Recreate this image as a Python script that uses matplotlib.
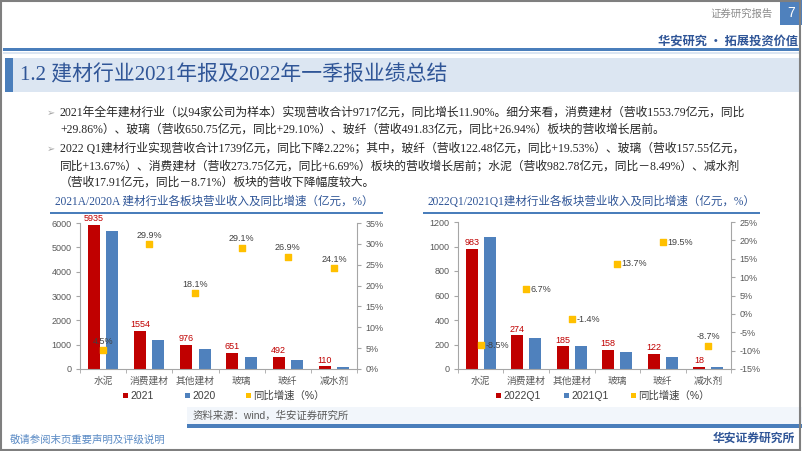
import numpy as np
import matplotlib.pyplot as plt
from matplotlib.patches import Rectangle

# data
cats = ['水泥', '消费建材', '其他建材', '玻璃', '玻纤', '减水剂']

rev_2021 = [5935, 1554, 976, 651, 492, 110]
rev_2020 = [5680, 1196, 826, 504, 388, 89]
yoy_2021 = [4.5, 29.9, 18.1, 29.1, 26.9, 24.1]

rev_22q1 = [983, 274, 185, 158, 122, 18]
rev_21q1 = [1074, 257, 188, 139, 102, 20]
yoy_22q1 = [-8.5, 6.7, -1.4, 13.7, 19.5, -8.7]

bullets = [
    '2021年全年建材行业（以94家公司为样本）实现营收合计9717亿元，同比增长11.90%。细分来看，消费建材（营收1553.79亿元，同比',
    '+29.86%）、玻璃（营收650.75亿元，同比+29.10%）、玻纤（营收491.83亿元，同比+26.94%）板块的营收增长居前。',
    '2022 Q1建材行业实现营收合计1739亿元，同比下降2.22%；其中，玻纤（营收122.48亿元，同比+19.53%）、玻璃（营收157.55亿元，',
    '同比+13.67%）、消费建材（营收273.75亿元，同比+6.69%）板块的营收增长居前；水泥（营收982.78亿元，同比－8.49%）、减水剂',
    '（营收17.91亿元，同比－8.71%）板块的营收下降幅度较大。',
]

RED = '#C00000'
BLUE = '#4F81BD'
YEL = '#FFC000'
DARKBLUE = '#2F5597'
GRAY = '#595959'

SERIF = ['Liberation Serif', 'Noto Sans CJK SC']
SANS = ['Liberation Sans', 'Noto Sans CJK SC']
plt.rcParams['font.family'] = ['Noto Sans CJK SC', 'DejaVu Sans']

W, H = 802, 451
fig = plt.figure(figsize=(W / 100, H / 100), dpi=100)


def fx(x):
    return x / W


def fy(y):
    return 1 - y / H


def box(x0, y0, x1, y1, color, **kw):
    fig.patches.append(Rectangle((fx(x0), fy(y1)), fx(x1 - x0), (y1 - y0) / H,
                                 transform=fig.transFigure, color=color, lw=0, **kw))


# header
box(780, 0, 802, 25, '#4F81BD')
fig.text(fx(791), fy(13), '7', color='white', fontsize=10, ha='center', va='center', family=SANS)
fig.text(fx(773), fy(14), '证券研究报告', color='#8C8C8C', fontsize=7.5, ha='right', va='center')
fig.text(fx(798), fy(41), '华安研究 · 拓展投资价值', color=DARKBLUE, fontsize=8.8,
         fontweight='bold', ha='right', va='center')
box(3, 48, 799, 51, '#4A7EBB')
box(3, 52, 799, 54, '#DCE6F2')

# section title band
box(5, 58, 799, 92, '#DCE6F2')
box(5, 58, 13, 92, '#4A7EBB')
fig.text(fx(20), fy(75), '1.2 建材行业2021年报及2022年一季报业绩总结', color=DARKBLUE,
         fontsize=15, ha='left', va='center', family=SERIF)

# bullet text
line_y = [113, 130, 149, 166, 183]
for i, (t, y) in enumerate(zip(bullets, line_y)):
    if i in (0, 2):
        fig.text(fx(47), fy(y), '➢', color='#A6A6A6', fontsize=7, ha='left', va='center',
                 family=['DejaVu Sans'])
    fig.text(fx(60), fy(y), t, color='#262626', fontsize=8.5, ha='left', va='center', family=SERIF)


def chart(ax_px, title, title_px, v1, v2, yoy, ymax, ystep, rmin, rmax, leg_names, leg_px, right_labels):
    x0, y0, x1, y1 = ax_px
    ax = fig.add_axes([fx(x0), fy(y1), fx(x1 - x0), (y1 - y0) / H])
    x = np.arange(len(cats))
    ax.bar(x - 0.2, v1, width=0.26, color=RED)
    ax.bar(x + 0.2, v2, width=0.26, color=BLUE)
    for xi, v in zip(x, v1):
        ax.text(xi - 0.2, v + ymax * 0.012, str(v), color=RED, fontsize=6.5,
                ha='center', va='bottom', family=SANS)
    ax.set_xlim(-0.5, len(cats) - 0.5)
    ax.set_ylim(0, ymax)
    ax.set_yticks(np.arange(0, ymax + 1, ystep))
    ax.set_xticks(x)
    ax.set_xticklabels(cats, fontsize=7, color=GRAY)
    ax.set_xticks(np.arange(-0.5, len(cats), 1), minor=True)
    ax.tick_params(axis='x', which='major', length=0, pad=5)
    ax.tick_params(axis='x', which='minor', length=3, color='#A6A6A6')
    ax.tick_params(axis='y', length=3, color='#A6A6A6', labelsize=6.5, labelcolor=GRAY, pad=3)
    for lab in ax.get_yticklabels():
        lab.set_family(SANS)
    for s in ['top', 'right']:
        ax.spines[s].set_visible(False)
    for s in ['left', 'bottom']:
        ax.spines[s].set_color('#A6A6A6')
        ax.spines[s].set_linewidth(0.8)

    ax2 = ax.twinx()
    ax2.scatter(x, yoy, marker='s', s=14, color=YEL, zorder=3)
    for xi, g in zip(x, yoy):
        lab = '%.1f%%' % g
        if right_labels and g != yoy[-1]:
            ax2.text(xi + 0.1, g, lab, color='#404040', fontsize=6.5, ha='left', va='center', family=SANS)
        else:
            ax2.text(xi, g + (rmax - rmin) * 0.03, lab, color='#404040', fontsize=6.5,
                     ha='center', va='bottom', family=SANS)
    ax2.set_ylim(rmin, rmax)
    ax2.set_yticks(np.arange(rmin, rmax + 0.1, 5))
    ax2.set_yticklabels(['%d%%' % v for v in np.arange(rmin, rmax + 0.1, 5)], family=SANS)
    ax2.tick_params(axis='y', length=3, color='#A6A6A6', labelsize=6.5, labelcolor=GRAY, pad=3)
    for s in ['top', 'left', 'bottom']:
        ax2.spines[s].set_visible(False)
    ax2.spines['right'].set_color('#A6A6A6')
    ax2.spines['right'].set_linewidth(0.8)

    # chart title with underline
    tx0, ty, tx1 = title_px
    fig.text(fx(tx0), fy(ty), title, color=DARKBLUE, fontsize=8.3, ha='left', va='center', family=SERIF)
    box(tx0 - 5, ty + 10, tx1, ty + 12, '#4A7EBB')

    # legend, drawn entry by entry
    colors = [RED, BLUE, YEL]
    for name, c, lx in zip(leg_names, colors, leg_px):
        box(lx, 393, lx + 5, 398, c)
        fig.text(fx(lx + 7), fy(396), name, color='#404040', fontsize=7.5, ha='left', va='center',
                 family=SANS)


chart((80, 223, 357, 369), '2021A/2020A 建材行业各板块营业收入及同比增速（亿元，%）', (55, 202, 383),
      rev_2021, rev_2020, yoy_2021, 6000, 1000, 0, 35,
      ['2021', '2020', '同比增速（%）'], [123, 185, 246], False)
chart((458, 222, 731, 369), '2022Q1/2021Q1建材行业各板块营业收入及同比增速（亿元，%）', (428, 202, 760),
      rev_22q1, rev_21q1, yoy_22q1, 1200, 200, -15, 25,
      ['2022Q1', '2021Q1', '同比增速（%）'], [496, 564, 631], True)

# source strip and footer
box(187, 407, 802, 424, '#F2F6FB')
box(187, 424, 802, 428, '#4A7EBB')
fig.text(fx(193), fy(416), '资料来源：wind，华安证券研究所', color='#595959', fontsize=7.5,
         ha='left', va='center', family=SANS)
fig.text(fx(10), fy(440), '敬请参阅末页重要声明及评级说明', color='#5B8BC5', fontsize=7.5,
         ha='left', va='center')
fig.text(fx(795), fy(438), '华安证券研究所', color=DARKBLUE, fontsize=8.5, fontweight='bold',
         ha='right', va='center')

# slide frame
fig.patches.append(Rectangle((0.001, 0.002), 0.997, 0.996, transform=fig.transFigure,
                             fill=False, ec='#7F7F7F', lw=1.5))

fig.savefig('out.png', dpi=100)
